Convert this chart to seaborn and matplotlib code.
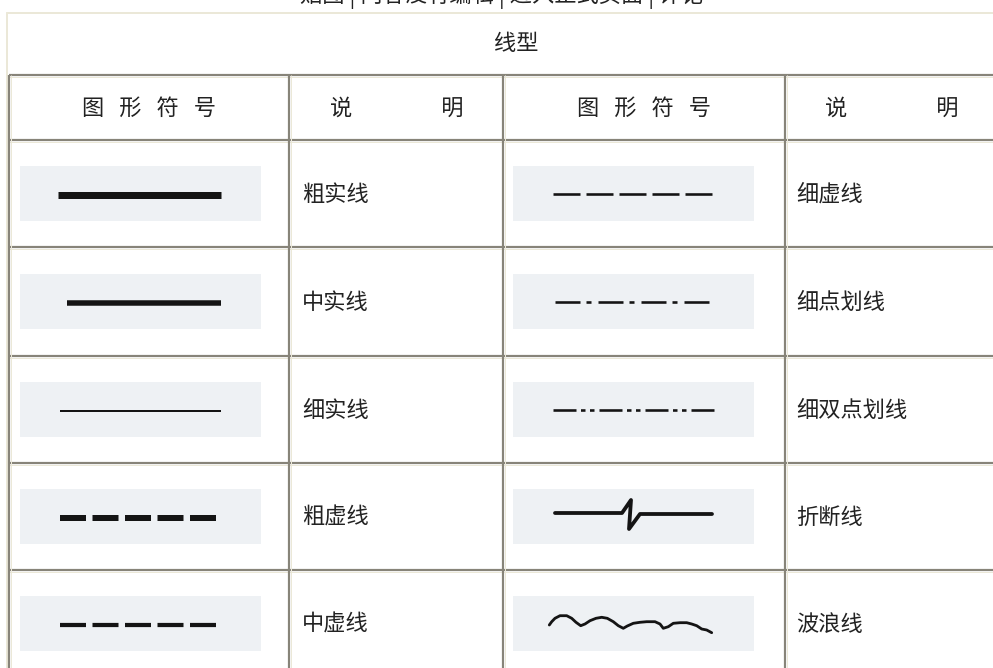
import matplotlib
matplotlib.use("Agg")
import matplotlib.pyplot as plt
import seaborn as sns
import pandas as pd
from matplotlib.patches import Rectangle

# table content
top_note = "贴图 | 内容没有编辑 | 进入正式页面 | 评论"
title = "线型"
head_symbol = "图   形   符   号"
head_desc = "说\u3000\u3000\u3000\u3000明"
left_names = ["粗实线", "中实线", "细实线", "粗虚线", "中虚线"]
right_names = ["细虚线", "细点划线", "细双点划线", "折断线", "波浪线"]

# free-hand symbols, offsets from the symbol centre (px)
break_dx = [-78, -11, -2, -4, 7, 79]
break_dy = [-3.5, -3.5, -16.5, 12.5, -2.5, -2.5]
wave_dx = [-83.7, -81.3, -78, -73, -66.3, -61.3, -57, -52.3, -48, -43, -37, -31.3,
           -25.7, -19.7, -14.7, -9.7, -5.7, 0.3, 7, 13.7, 22, 27, 30.3, 35.3, 40.3,
           47, 53.7, 58.7, 63.7, 68.7, 73.7, 78.7]
wave_dy = [1.5, -1.8, -5.2, -7.8, -7.8, -5.2, -1.2, 2.2, 0.5, -2.8, -5.2, -6.2,
           -5.2, -1.8, 2.2, 4.8, 2.5, -0.2, -1.2, -1.8, -1.8, 0.5, 4.8, 3.2, -0.2,
           -0.8, -0.8, 0.5, 2.2, 5.5, 6.5, 9.2]

# layout (pixels)
W, H = 993, 668
PX = 72 / 100
col_x = [9, 289, 503, 785]
row_y = [75, 140, 247, 356, 463, 570, 677]
dark, beige, box_c, ink = "#878479", "#ebe8d8", "#eef1f4", "#141414"

# left column styles: (x0, x1, lw px, dash px)
left_style = [
    (58, 221, 7.0, None),
    (67, 221, 5.5, None),
    (60, 221, 2.0, None),
    (60, 219, 6.0, (26, 6.5)),
    (60, 218, 4.2, (26, 6.5)),
]
right_style = [
    (553, 712, 2.6, (27, 6)),
    (555, 712, 2.6, (25, 6, 5, 7)),
    (553, 714, 2.6, (23, 4.5, 4.5, 4.5, 4.5, 5)),
    (None, None, 3.8, None),
    (None, None, 2.8, None),
]

sns.set_theme(style="white")
plt.rcParams["font.family"] = ["Noto Sans CJK SC", "DejaVu Sans"]
plt.rcParams["lines.scale_dashes"] = False

fig = plt.figure(figsize=(9.93, 6.68), dpi=100)
ax = fig.add_axes([0, 0, 1, 1])
ax.set_xlim(0, W)
ax.set_ylim(H, 0)
ax.axis("off")

# top line of text, cut off by the picture edge as in the source
ax.text(502, -4, top_note, ha="center", va="center", fontsize=16, color="#222222")

# frame and grid
ax.plot([7, W], [13, 13], color=beige, lw=2 * PX)
ax.plot([7, 7], [13, H], color=beige, lw=2 * PX)
for y in row_y[:-1]:
    ax.plot([9, W], [y, y], color=dark, lw=2.2 * PX, solid_capstyle="butt")
    ax.plot([9, W], [y + 2, y + 2], color=beige, lw=1 * PX, solid_capstyle="butt")
for x in col_x:
    ax.plot([x, x], [75, H], color=dark, lw=2.2 * PX, solid_capstyle="butt")
    ax.plot([x + 2, x + 2], [75, H], color=beige, lw=1 * PX, solid_capstyle="butt")

# header
ax.text(516, 44, title, ha="center", va="center", fontsize=16, color="#222222")
hy = (row_y[0] + row_y[1]) / 2 + 1
ax.text(149, hy, head_symbol, ha="center", va="center", fontsize=16, color="#222222")
ax.text(644, hy, head_symbol, ha="center", va="center", fontsize=16, color="#222222")
ax.text(330, hy, head_desc, ha="left", va="center", fontsize=16, color="#222222")
ax.text(825, hy, head_desc, ha="left", va="center", fontsize=16, color="#222222")

def draw_line(x0, x1, y, lw, dash):
    ls = "-" if dash is None else (0, tuple(d * PX for d in dash))
    ax.plot([x0, x1], [y, y], color=ink, lw=lw * PX, linestyle=ls,
            solid_capstyle="butt", dash_capstyle="butt")

for i in range(5):
    cy = (row_y[i + 1] + row_y[i + 2]) / 2
    # sample boxes
    ax.add_patch(Rectangle((20, cy - 27.5), 241, 55, color=box_c, lw=0))
    ax.add_patch(Rectangle((513, cy - 27.5), 241, 55, color=box_c, lw=0))
    # left samples
    x0, x1, lw, dash = left_style[i]
    draw_line(x0, x1, cy + 1, lw, dash)
    ax.text(302, cy + 1, left_names[i], ha="left", va="center", fontsize=16, color="#222222")
    # right samples
    x0, x1, lw, dash = right_style[i]
    if x0 is not None:
        draw_line(x0, x1, cy, lw, dash)
    else:
        if right_names[i] == "折断线":
            dx, dy = break_dx, break_dy
        else:
            dx, dy = wave_dx, wave_dy
        d = pd.DataFrame({"x": [633 + v for v in dx], "y": [cy + v for v in dy]})
        sns.lineplot(data=d, x="x", y="y", sort=False, estimator=None, color=ink,
                     lw=lw * PX, ax=ax, solid_joinstyle="round", solid_capstyle="round")
    ax.text(796, cy + 1, right_names[i], ha="left", va="center", fontsize=16, color="#222222")

ax.set_xlim(0, W)
ax.set_ylim(H, 0)
ax.axis("off")
fig.savefig("out.png", dpi=100)
